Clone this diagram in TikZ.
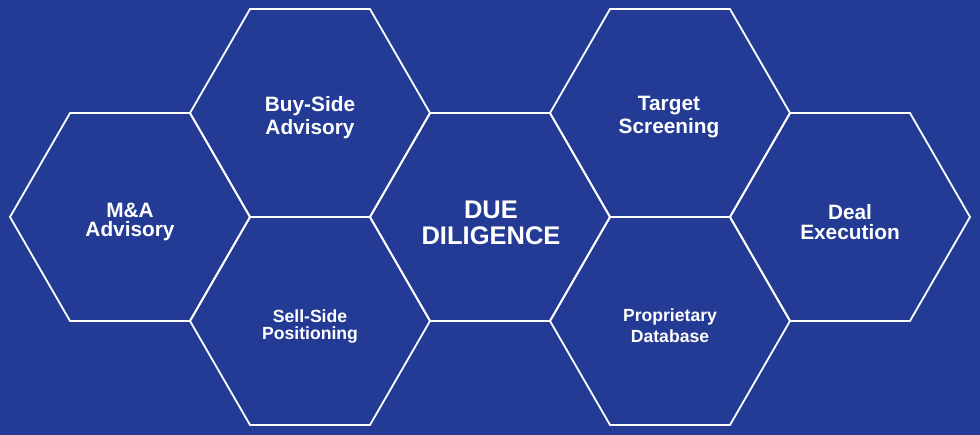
\documentclass[tikz,border=0pt]{standalone}
\usepackage{fontspec}
\usepackage{tikz}
\setmainfont{Liberation Sans}
\usetikzlibrary{positioning}
\definecolor{mblue}{rgb}{0.141, 0.231, 0.584}

\begin{document}
\begin{tikzpicture}[x=1pt, y=-1pt,
    hexa/.style={white, line width=1.8pt, line join=miter},
    lbl/.style={text=white, align=center, inner sep=0pt}]
    \fill [mblue] (0, 0) rectangle (980, 435);

    \foreach \name/\cx/\cy in {ma/130/217, buy/310/113, sell/310/321, due/490/217, target/670/113, prop/670/321, deal/850/217} {
      \coordinate (\name) at (\cx, \cy);
      \draw [hexa] (\name) ++(-120, 0) -- ++(60, -103.92) -- ++(120, 0) -- ++(60, 103.92) -- ++(-60, 103.92) -- ++(-120, 0) -- cycle;
    }

    \node [lbl, font={\fontsize{20.8}{19}\selectfont\bfseries}] (maText) at (130, 222) {M\&A\\Advisory};
    \node [lbl, font={\fontsize{20.8}{23}\selectfont\bfseries}] (buyText) at (310, 118) {Buy-Side\\Advisory};
    \node [lbl, font={\fontsize{17.6}{17}\selectfont\bfseries}] (sellText) at (310, 326.5) {Sell-Side\\Positioning};
    \node [lbl, font={\fontsize{25.5}{26}\selectfont\bfseries}] (dueText) at (491, 223) {DUE\\DILIGENCE};
    \node [lbl, font={\fontsize{20.8}{23}\selectfont\bfseries}] (targetText) at (669, 117.5) {Target\\Screening};
    \node [lbl, font={\fontsize{17.6}{21}\selectfont\bfseries}] (propText) at (670, 326) {Proprietary\\Database};
    \node [lbl, font={\fontsize{20.8}{20}\selectfont\bfseries}] (dealText) at (850, 222) {Deal\\Execution};
\end{tikzpicture}
\end{document}
